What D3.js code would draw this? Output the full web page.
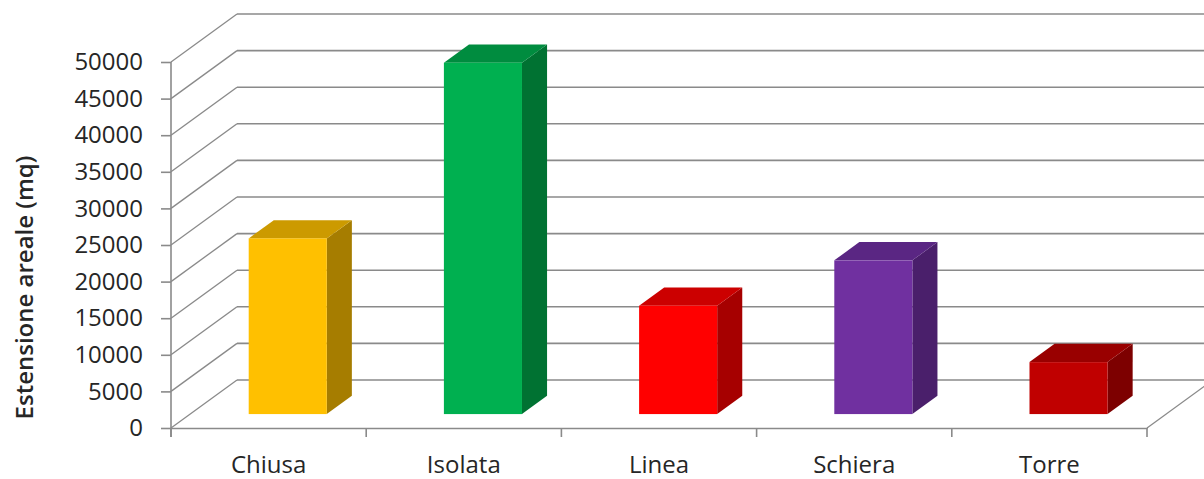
<!DOCTYPE html>
<html>
<head>
<meta charset="utf-8">
<script src="https://cdn.jsdelivr.net/npm/d3@7"></script>
<style>
  html, body { margin: 0; padding: 0; background: #fff; }
  svg { display: block; }
  text { font-family: "Open Sans", "DejaVu Sans", sans-serif; fill: #262626; }
</style>
</head>
<body>
<script>
// ---- data ----
const categories = ["Chiusa", "Isolata", "Linea", "Schiera", "Torre"];
const values = [24000, 48000, 14800, 21000, 7100];
const yTicks = [0, 5000, 10000, 15000, 20000, 25000, 30000, 35000, 40000, 45000, 50000];
const frontColors = ["#FFC000", "#00B050", "#FF0000", "#7030A0", "#C00000"];
const sideColors  = ["#A67D00", "#007232", "#A60000", "#4A1F6B", "#7D0000"];
const topColors   = ["#CC9A00", "#008C3F", "#CC0000", "#5A2683", "#990000"];
const yTitle = "Estensione areale (mq)";

// ---- layout ----
const W = 1204, H = 479;
const svg = d3.select("body").append("svg").attr("width", W).attr("height", H);

const x = d3.scaleBand().domain(categories).range([171, 1147]).paddingInner(0.6).paddingOuter(0.3);
const y = d3.scaleLinear().domain([0, 50000]).range([428, 62]);
const DX = 66, DY = -48;           // full depth offset of the 3D box
const f0 = 0.29, f1 = 0.67;        // bar depth span (front / back fractions)
const off = f => [DX * f, DY * f];
const grid = "#8a8a8a";

// back wall gridlines + left wall diagonals
const g = svg.append("g");
yTicks.forEach(t => {
  g.append("line").attr("x1", 171 + DX).attr("x2", 1147 + DX)
    .attr("y1", y(t) + DY).attr("y2", y(t) + DY)
    .attr("stroke", grid).attr("stroke-width", 1.6);
  g.append("line").attr("x1", 171).attr("y1", y(t))
    .attr("x2", 171 + DX).attr("y2", y(t) + DY)
    .attr("stroke", grid).attr("stroke-width", 1.3);
});
// floor right edge
g.append("line").attr("x1", 1147).attr("y1", y(0)).attr("x2", 1147 + DX).attr("y2", y(0) + DY)
  .attr("stroke", grid).attr("stroke-width", 1.3);

// bars
const bars = svg.append("g");
categories.forEach((c, i) => {
  const v = values[i];
  const [ax, ay] = off(f0), [bx, by] = off(f1);
  const xl = x(c) + ax, xr = x(c) + x.bandwidth() + ax;
  const yt = y(v) + ay, yb = y(0) + ay;
  const ddx = bx - ax, ddy = by - ay;
  bars.append("path").attr("fill", sideColors[i])
    .attr("d", `M${xr},${yt} L${xr + ddx},${yt + ddy} L${xr + ddx},${yb + ddy} L${xr},${yb} Z`);
  bars.append("path").attr("fill", topColors[i])
    .attr("d", `M${xl},${yt} L${xl + ddx},${yt + ddy} L${xr + ddx},${yt + ddy} L${xr},${yt} Z`);
  bars.append("rect").attr("fill", frontColors[i])
    .attr("x", xl).attr("y", yt).attr("width", xr - xl).attr("height", yb - yt);
});

// y axis
const yAxis = svg.append("g").attr("transform", "translate(171,0)")
  .call(d3.axisLeft(y).tickValues(yTicks).tickFormat(d3.format("d")).tickSize(10).tickPadding(18));
yAxis.select(".domain").attr("stroke", grid).attr("stroke-width", 1.6).attr("d", `M0,${y(50000)}V${y(0) + 9}`);
yAxis.selectAll(".tick line").attr("stroke", grid).attr("stroke-width", 1.6);
yAxis.selectAll("text").attr("font-size", 24).style("fill", "#262626");

// x axis (floor front line)
const xAxis = svg.append("g").attr("transform", `translate(0,${y(0)})`)
  .call(d3.axisBottom(x).tickSize(0).tickPadding(28));
xAxis.select(".domain").attr("stroke", grid).attr("stroke-width", 1.6);
xAxis.selectAll("text").attr("font-size", 24).style("fill", "#262626");
d3.range(categories.length + 1).forEach(i => {
  const bx = x.range()[0] + i * x.step();
  svg.append("line").attr("x1", bx).attr("x2", bx).attr("y1", y(0)).attr("y2", y(0) + 9)
    .attr("stroke", grid).attr("stroke-width", 1.6);
});

// y title
svg.append("text")
  .attr("transform", `translate(33,${(150 + 425) / 2}) rotate(-90)`)
  .attr("text-anchor", "middle")
  .attr("font-size", 24).attr("font-weight", 600)
  .text(yTitle);
</script>
</body>
</html>
